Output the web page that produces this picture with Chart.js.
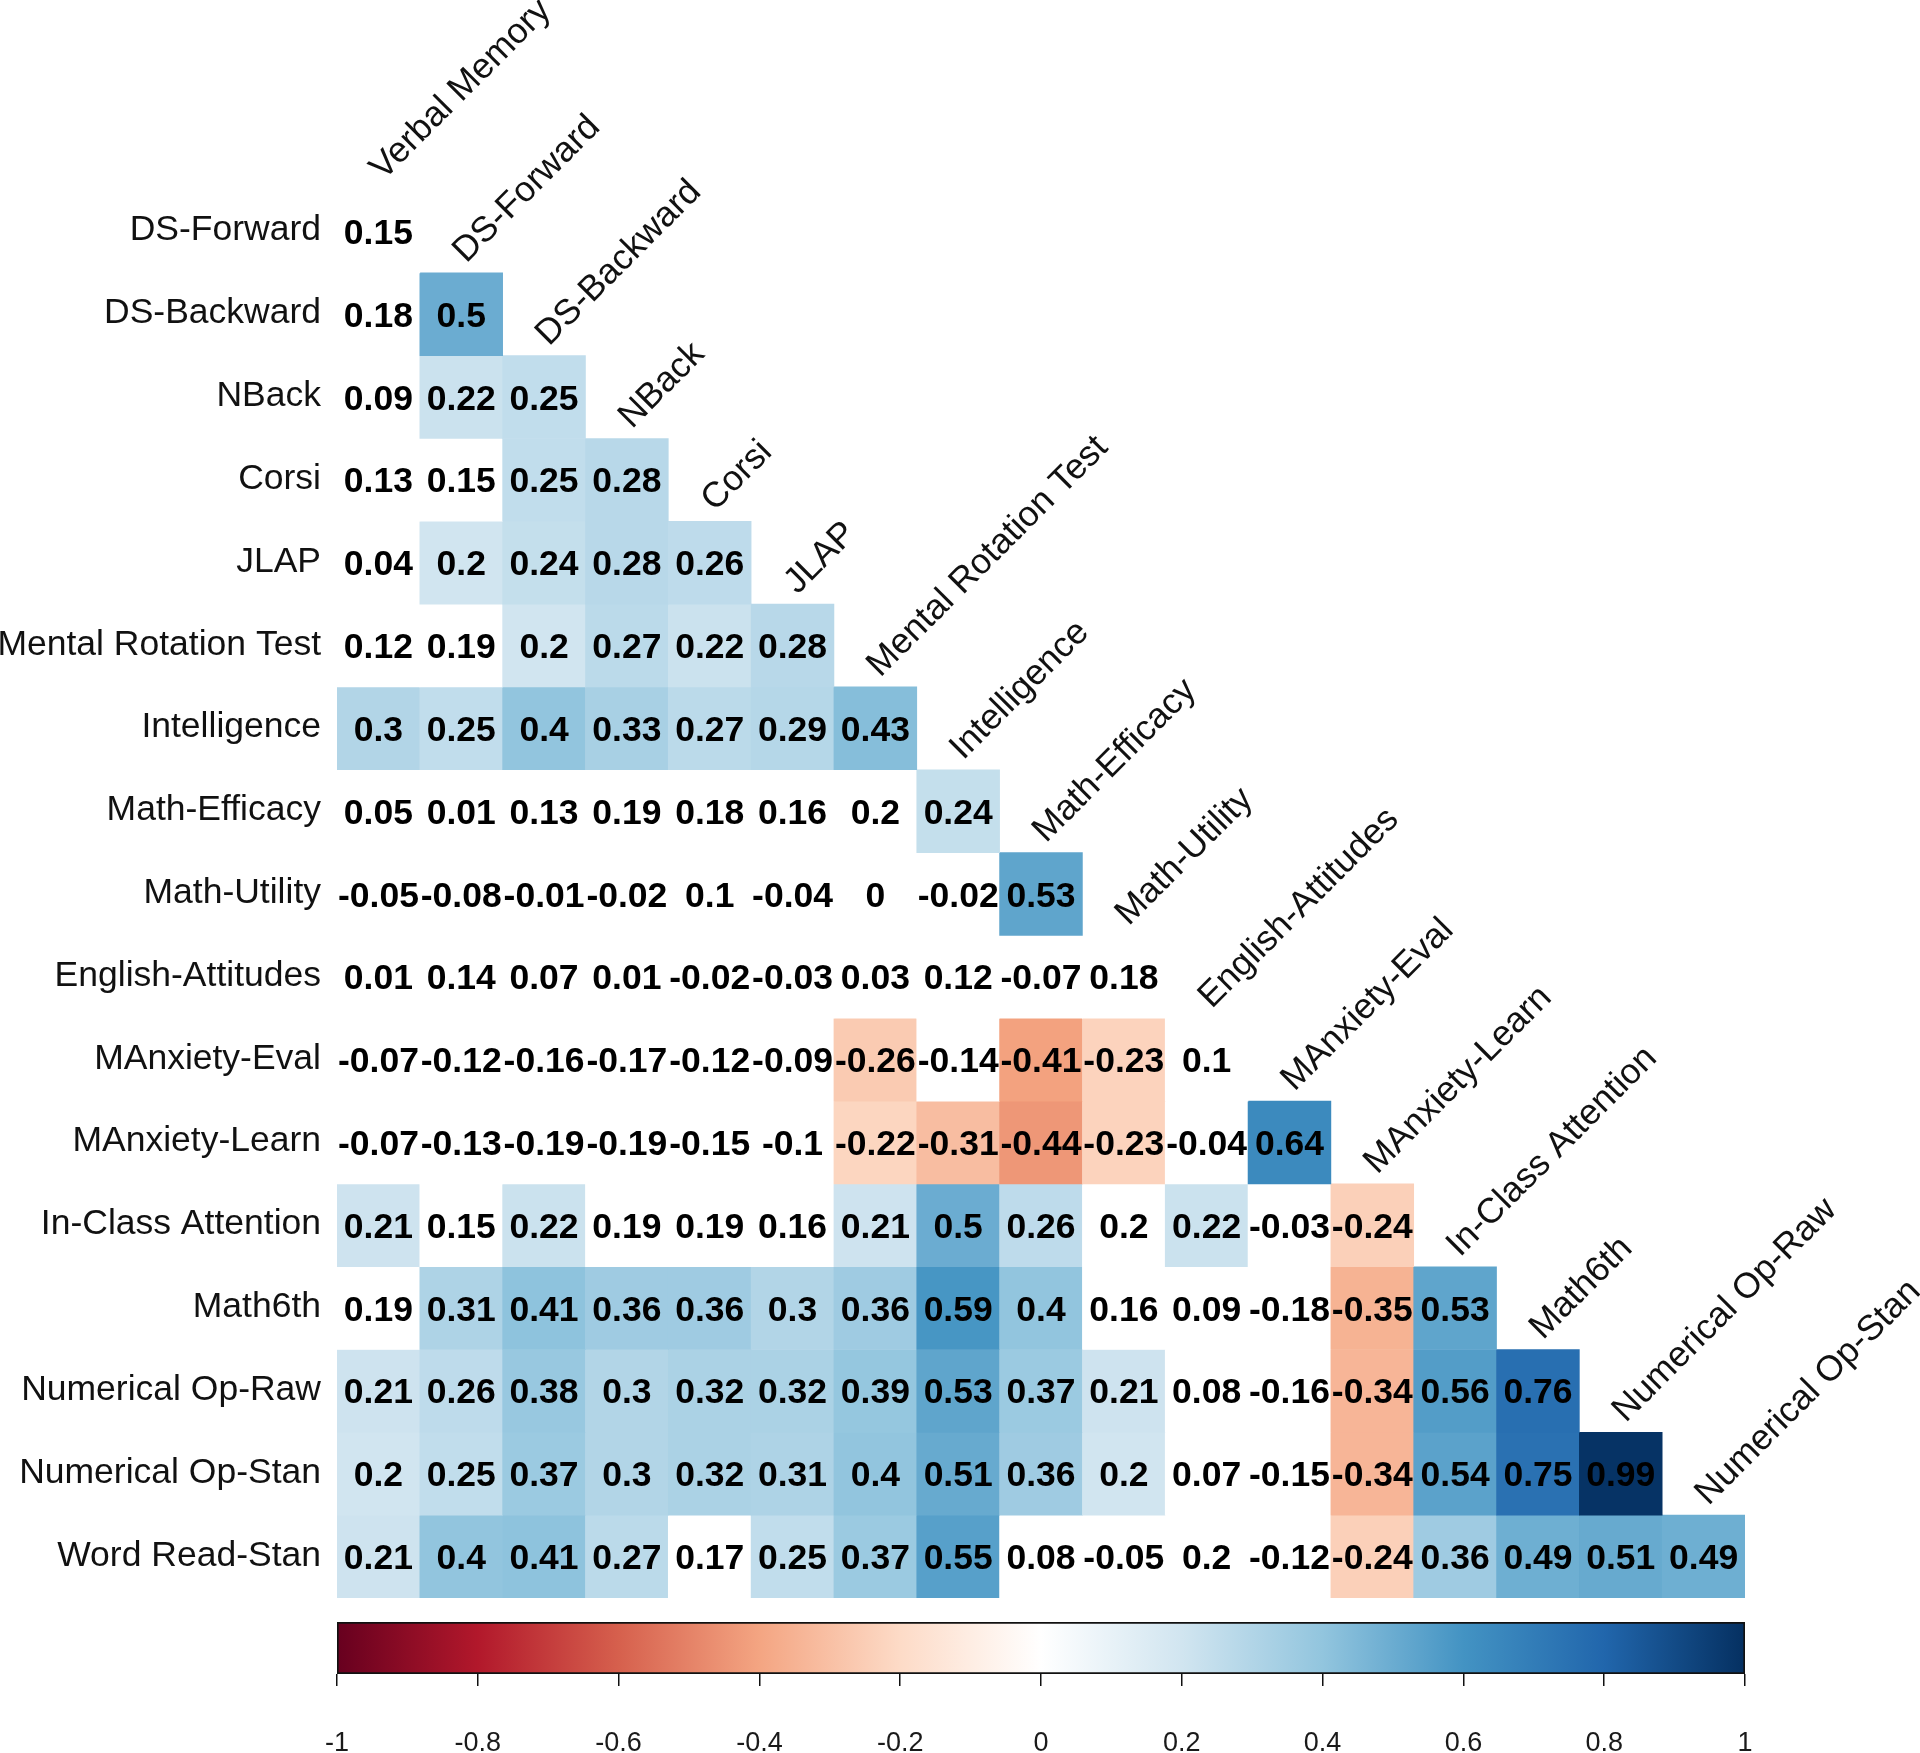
<!DOCTYPE html>
<html><head><meta charset="utf-8">
<script src="https://cdn.jsdelivr.net/npm/chart.js@4.4.0/dist/chart.umd.min.js"></script>
<style>
html,body{margin:0;padding:0;background:#fff;}
#wrap{position:relative;width:1920px;height:1753px;overflow:hidden;background:#fff;}
#heat{position:absolute;left:0;top:0;}
#cbar{position:absolute;left:0;top:1600px;}
</style></head><body>
<div id="wrap">
<canvas id="heat" width="1920" height="1600"></canvas>
<canvas id="cbar" width="1920" height="153"></canvas>
</div>
<script>
const rowLabels = ["DS-Forward","DS-Backward","NBack","Corsi","JLAP","Mental Rotation Test","Intelligence","Math-Efficacy","Math-Utility","English-Attitudes","MAnxiety-Eval","MAnxiety-Learn","In-Class Attention","Math6th","Numerical Op-Raw","Numerical Op-Stan","Word Read-Stan"];
const colLabels = ["Verbal Memory","DS-Forward","DS-Backward","NBack","Corsi","JLAP","Mental Rotation Test","Intelligence","Math-Efficacy","Math-Utility","English-Attitudes","MAnxiety-Eval","MAnxiety-Learn","In-Class Attention","Math6th","Numerical Op-Raw","Numerical Op-Stan"];
const corrValues = [
 [0.15],
 [0.18,0.5],
 [0.09,0.22,0.25],
 [0.13,0.15,0.25,0.28],
 [0.04,0.2,0.24,0.28,0.26],
 [0.12,0.19,0.2,0.27,0.22,0.28],
 [0.3,0.25,0.4,0.33,0.27,0.29,0.43],
 [0.05,0.01,0.13,0.19,0.18,0.16,0.2,0.24],
 [-0.05,-0.08,-0.01,-0.02,0.1,-0.04,0,-0.02,0.53],
 [0.01,0.14,0.07,0.01,-0.02,-0.03,0.03,0.12,-0.07,0.18],
 [-0.07,-0.12,-0.16,-0.17,-0.12,-0.09,-0.26,-0.14,-0.41,-0.23,0.1],
 [-0.07,-0.13,-0.19,-0.19,-0.15,-0.1,-0.22,-0.31,-0.44,-0.23,-0.04,0.64],
 [0.21,0.15,0.22,0.19,0.19,0.16,0.21,0.5,0.26,0.2,0.22,-0.03,-0.24],
 [0.19,0.31,0.41,0.36,0.36,0.3,0.36,0.59,0.4,0.16,0.09,-0.18,-0.35,0.53],
 [0.21,0.26,0.38,0.3,0.32,0.32,0.39,0.53,0.37,0.21,0.08,-0.16,-0.34,0.56,0.76],
 [0.2,0.25,0.37,0.3,0.32,0.31,0.4,0.51,0.36,0.2,0.07,-0.15,-0.34,0.54,0.75,0.99],
 [0.21,0.4,0.41,0.27,0.17,0.25,0.37,0.55,0.08,-0.05,0.2,-0.12,-0.24,0.36,0.49,0.51,0.49]
];
const significant = [
 [0],
 [0,1],
 [0,1,1],
 [0,0,1,1],
 [0,1,1,1,1],
 [0,0,1,1,1,1],
 [1,1,1,1,1,1,1],
 [0,0,0,0,0,0,0,1],
 [0,0,0,0,0,0,0,0,1],
 [0,0,0,0,0,0,0,0,0,0],
 [0,0,0,0,0,0,1,0,1,1,0],
 [0,0,0,0,0,0,1,1,1,1,0,1],
 [1,0,1,0,0,0,1,1,1,0,1,0,1],
 [0,1,1,1,1,1,1,1,1,0,0,0,1,1],
 [1,1,1,1,1,1,1,1,1,1,0,0,1,1,1],
 [1,1,1,1,1,1,1,1,1,1,0,0,1,1,1,1],
 [1,1,1,1,0,1,1,1,0,0,0,0,1,1,1,1,1]
];
const paletteStops = ["#67001F","#B2182B","#D6604D","#F4A582","#FDDBC7","#FFFFFF","#D1E5F0","#92C5DE","#4393C3","#2166AC","#053061"];
const colorbarTicks = [-1,-0.8,-0.6,-0.4,-0.2,0,0.2,0.4,0.6,0.8,1];
const colorbarTickLabels = ["-1","-0.8","-0.6","-0.4","-0.2","0","0.2","0.4","0.6","0.8","1"];

const FONT = '"Liberation Sans", Arial, Helvetica, sans-serif';

function hexToRgb(h){return [parseInt(h.slice(1,3),16),parseInt(h.slice(3,5),16),parseInt(h.slice(5,7),16)];}
function valueColor(v){
  const t = (v + 1) / 2 * (paletteStops.length - 1);
  const i = Math.min(Math.floor(t), paletteStops.length - 2);
  const f = t - i;
  const a = hexToRgb(paletteStops[i]), b = hexToRgb(paletteStops[i+1]);
  const c = a.map((x,k)=>Math.round(x + (b[k]-x)*f));
  return `rgb(${c[0]},${c[1]},${c[2]})`;
}

const datasets = rowLabels.map((rl, r) => ({
  label: rl,
  data: colLabels.map((cl, c) => c <= r ? [r, r + 1] : null),
  backgroundColor: colLabels.map((cl, c) => c <= r ? (significant[r][c] ? valueColor(corrValues[r][c]) : '#ffffff') : 'rgba(0,0,0,0)'),
  borderWidth: 0,
  barPercentage: 1,
  categoryPercentage: 1,
  grouped: false
}));

const labelPlugin = {
  id: 'corrLabels',
  afterDatasetsDraw(chart) {
    const ctx = chart.ctx;
    const xs = chart.scales.x, ys = chart.scales.y;
    ctx.save();
    // cell values
    ctx.fillStyle = '#000';
    ctx.font = `bold 35.5px ${FONT}`;
    ctx.textAlign = 'center';
    ctx.textBaseline = 'alphabetic';
    rowLabels.forEach((rl, r) => {
      const meta = chart.getDatasetMeta(r);
      corrValues[r].forEach((v, c) => {
        const p = meta.data[c].getCenterPoint();
        ctx.fillText(String(v), p.x, p.y + 12.5);
      });
    });
    // row labels
    ctx.font = `35.5px ${FONT}`;
    ctx.textAlign = 'right';
    ctx.fillStyle = '#111';
    rowLabels.forEach((rl, r) => {
      const y = ys.getPixelForValue(r + 0.5);
      ctx.fillText(rl, xs.left - 16, y + 9);
    });
    // column labels
    ctx.textAlign = 'left';
    colLabels.forEach((cl, c) => {
      const x = xs.getPixelForValue(c) + 5;
      const y = ys.getPixelForValue(c) - 9;
      ctx.save();
      ctx.translate(x, y);
      ctx.rotate(-Math.PI / 4);
      ctx.fillText(cl, 0, 0);
      ctx.restore();
    });
    ctx.restore();
  }
};

new Chart(document.getElementById('heat'), {
  type: 'bar',
  data: { labels: colLabels, datasets },
  options: {
    responsive: false,
    animation: false,
    layout: { padding: { left: 337, right: 175, top: 190, bottom: 2 } },
    plugins: { legend: { display: false }, tooltip: { enabled: false } },
    scales: {
      x: { type: 'category', offset: true, display: false },
      y: { type: 'linear', min: 0, max: rowLabels.length, reverse: true, display: false }
    }
  },
  plugins: [labelPlugin]
});

new Chart(document.getElementById('cbar'), {
  type: 'bar',
  data: {
    labels: ['scale'],
    datasets: [{
      data: [[colorbarTicks[0], colorbarTicks[colorbarTicks.length - 1]]],
      backgroundColor(c) {
        const area = c.chart.chartArea;
        if (!area) return '#fff';
        const g = c.chart.ctx.createLinearGradient(area.left, 0, area.right, 0);
        paletteStops.forEach((s, i) => g.addColorStop(i / (paletteStops.length - 1), s));
        return g;
      },
      borderColor: '#111',
      borderWidth: 2,
      borderSkipped: false,
      barPercentage: 1,
      categoryPercentage: 1
    }]
  },
  options: {
    indexAxis: 'y',
    responsive: false,
    animation: false,
    layout: { padding: { left: 337, right: 175, top: 22, bottom: 0 } },
    plugins: { legend: { display: false }, tooltip: { enabled: false } },
    scales: {
      y: { display: false },
      x: {
        type: 'linear', min: -1, max: 1, position: 'bottom',
        afterBuildTicks(s) { s.ticks = colorbarTicks.map(v => ({ value: v })); },
        afterFit(s) { s.height = 79; },
        border: { display: false },
        grid: { drawOnChartArea: false, drawTicks: true, tickLength: 12, color: '#111', lineWidth: 1.5 },
        ticks: {
          autoSkip: false, maxRotation: 0, padding: 41, color: '#1a1a1a',
          font: { family: FONT, size: 27 },
          callback(v, i) { return colorbarTickLabels[i]; }
        }
      }
    }
  }
});
</script>
</body></html>
